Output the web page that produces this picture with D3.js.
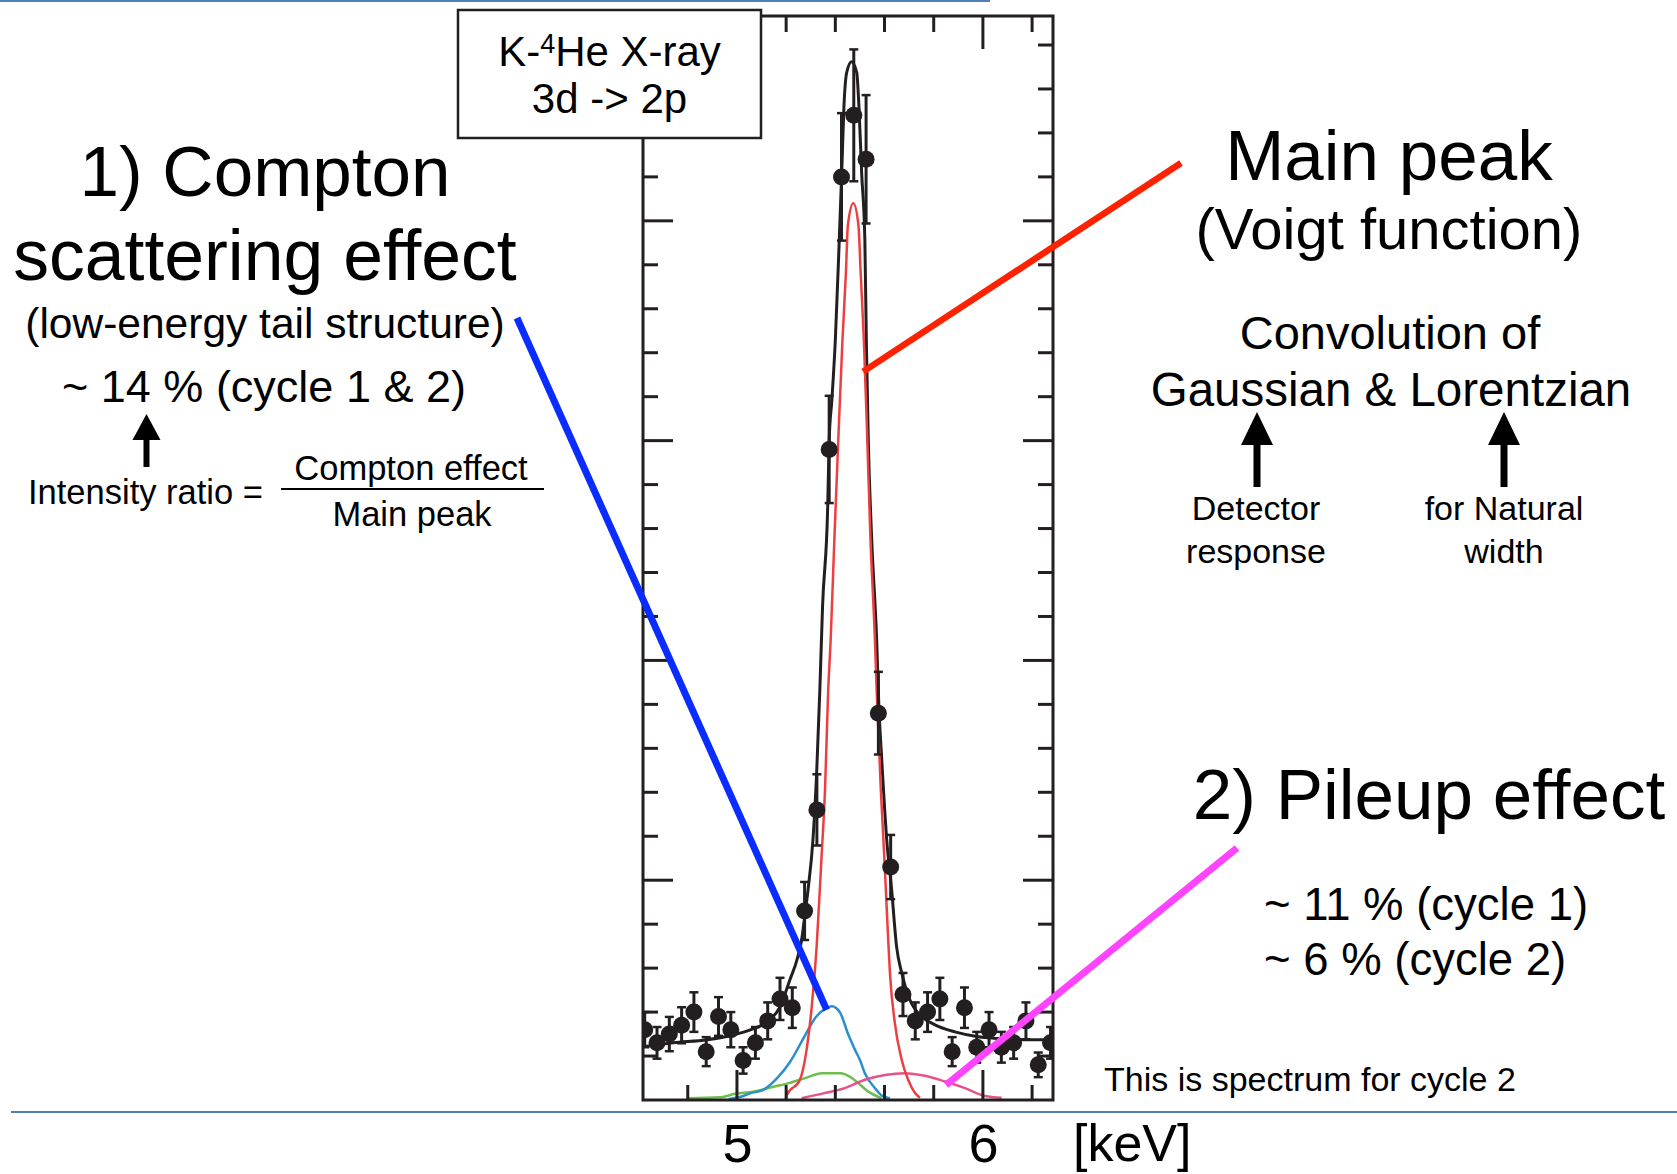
<!DOCTYPE html>
<html>
<head>
<meta charset="utf-8">
<title>K-4He X-ray 3d -> 2p spectrum</title>
<script src="https://cdn.jsdelivr.net/npm/d3@7"></script>
<style>
  html, body { margin: 0; padding: 0; background: #fff; }
  svg { display: block; }
  text { font-family: "Liberation Sans", Arial, Helvetica, sans-serif; fill: #000; }
</style>
</head>
<body>
<svg id="chart" width="1677" height="1174"></svg>
<script>
// ---- Measured spectrum (cycle 2): bin centres [keV], counts and statistical errors
const binEnergy = [4.625, 4.675, 4.725, 4.775, 4.825, 4.875, 4.925, 4.975, 5.025, 5.075,
                   5.125, 5.175, 5.225, 5.275, 5.325, 5.375, 5.425, 5.475, 5.525, 5.575,
                   5.625, 5.675, 5.725, 5.775, 5.825, 5.875, 5.925, 5.975, 6.025, 6.075,
                   6.125, 6.175, 6.225, 6.275];
const binCounts = [16, 13, 15, 17, 20, 11, 19, 16, 9, 13,
                   18, 23, 21, 43, 66, 148, 210, 224, 214, 88,
                   53, 24, 18, 20, 23, 11, 21, 12, 16, 12,
                   13, 18, 8, 13];
const binErrors = [4.0, 3.6, 3.9, 4.1, 4.5, 3.3, 4.4, 4.0, 3.0, 3.6,
                   4.2, 4.8, 4.6, 6.6, 8.1, 12.2, 14.5, 15.0, 14.6, 9.4,
                   7.3, 4.9, 4.2, 4.5, 4.8, 3.3, 4.6, 3.5, 4.0, 3.5,
                   3.6, 4.2, 2.8, 3.6];

// ---- Total fit
const fitEnergy = [4.618, 4.740, 4.878, 4.984, 5.065, 5.122, 5.175, 5.215, 5.244, 5.263,
                   5.276, 5.289, 5.309, 5.324, 5.337, 5.348, 5.369, 5.375, 5.386, 5.400,
                   5.416, 5.426, 5.435, 5.446, 5.466, 5.487, 5.496, 5.507, 5.520, 5.526,
                   5.534, 5.548, 5.568, 5.577, 5.588, 5.609, 5.629, 5.649, 5.670, 5.703,
                   5.751, 5.805, 5.886, 5.981, 6.062, 6.157, 6.285];
const fitCounts = [12.1, 13.0, 13.7, 14.8, 16.2, 17.7, 21.2, 27.3, 31.9, 36.4,
                   42.0, 47.8, 59.2, 74.4, 93.3, 112.2, 135.0, 150.2, 159.3, 172.9,
                   195.7, 210.9, 226.0, 233.7, 236.2, 233.7, 226.0, 210.9, 195.7, 172.9,
                   150.2, 127.4, 104.7, 89.5, 78.1, 59.2, 47.8, 34.9, 28.9, 22.8,
                   19.0, 17.1, 15.5, 14.4, 14.0, 13.7, 13.7];

// ---- Main peak (Voigt)
const mainEnergy = [5.199, 5.202, 5.256, 5.283, 5.304, 5.324, 5.344, 5.358, 5.371, 5.381,
                    5.396, 5.412, 5.429, 5.443, 5.451, 5.473, 5.494, 5.503, 5.516, 5.530,
                    5.543, 5.561, 5.568, 5.585, 5.599, 5.615, 5.622, 5.642, 5.670, 5.696,
                    5.724, 5.744];
const mainCounts = [0.2, 1.1, 4.6, 11.4, 21.2, 34.9, 55.4, 70.5, 93.3, 104.7,
                    127.4, 150.2, 172.9, 188.2, 199.0, 204.0, 199.0, 188.2, 172.9, 150.2,
                    127.4, 104.7, 93.3, 70.5, 55.4, 36.4, 28.9, 17.5, 9.1, 4.6,
                    1.6, 0.5];

// ---- Compton low-energy tail
const comptonEnergy = [4.965, 5.026, 5.053, 5.107, 5.167, 5.215, 5.276, 5.321, 5.365, 5.386,
                       5.419, 5.452, 5.480, 5.500, 5.520, 5.561, 5.589, 5.622];
const comptonCounts = [0.2, 0.9, 1.5, 2.3, 5.2, 8.6, 14.6, 18.9, 20.9, 21.3,
                       19.9, 15.0, 11.4, 9.1, 6.1, 2.7, 1.0, 0.4];

// ---- Second small component
const secondEnergy = [4.801, 4.931, 4.992, 5.066, 5.148, 5.215, 5.283, 5.344, 5.423, 5.459,
                      5.488, 5.534, 5.588];
const secondCounts = [0.4, 0.6, 1.4, 1.9, 3.0, 3.9, 5.1, 6.1, 6.1, 5.3,
                      4.1, 1.9, 0.4];

// ---- Pileup component
const pileupEnergy = [5.263, 5.351, 5.439, 5.520, 5.602, 5.683, 5.764, 5.846, 5.927, 6.008, 6.076];
const pileupCounts = [0.4, 1.5, 2.7, 4.6, 5.7, 6.1, 5.5, 4.2, 2.7, 0.9, 0.5];

// ---- Axis ticks
const xMinorTicks = [4.8, 5.0, 5.2, 5.4, 5.6, 5.8, 6.0, 6.2];
const xTickLabels = [5, 6];
const yTickStep = 10;
const yMajorStep = 50;

// ---------------------------------------------------------------
const svg = d3.select("#chart");
const W = 1677, H = 1174;
svg.append("rect").attr("width", W).attr("height", H).attr("fill", "#fff");

const plot = { left: 643, right: 1053, top: 16, bottom: 1100 };
const x = d3.scaleLinear().domain([4.618, 6.285]).range([plot.left, plot.right]);
const y = d3.scaleLinear().domain([0, 246.6]).range([plot.bottom, plot.top]);

const ink = "#231f20";

// slide rules
svg.append("line").attr("x1", 0).attr("x2", 990).attr("y1", 1).attr("y2", 1)
  .attr("stroke", "#4f7fb3").attr("stroke-width", 2);
svg.append("line").attr("x1", 11).attr("x2", W).attr("y1", 1112).attr("y2", 1112)
  .attr("stroke", "#4f7fb3").attr("stroke-width", 2);

svg.append("clipPath").attr("id", "plotClip")
  .append("rect")
  .attr("x", plot.left).attr("y", plot.top)
  .attr("width", plot.right - plot.left).attr("height", plot.bottom - plot.top);

const g = svg.append("g").attr("clip-path", "url(#plotClip)");

const lineOf = (es, cs) => d3.line()
  .x((d, i) => x(es[i]))
  .y((d, i) => y(cs[i]))
  .curve(d3.curveMonotoneX)(es);

// total fit
g.append("path").attr("d", lineOf(fitEnergy, fitCounts))
  .attr("fill", "none").attr("stroke", ink).attr("stroke-width", 3);

// components
const comps = [
  { e: secondEnergy, c: secondCounts, color: "#6cbf4c" },
  { e: comptonEnergy, c: comptonCounts, color: "#2a8fcf" },
  { e: pileupEnergy, c: pileupCounts, color: "#e6538a" },
  { e: mainEnergy, c: mainCounts, color: "#ec4040" }
];
comps.forEach(k => {
  g.append("path").attr("d", lineOf(k.e, k.c))
    .attr("fill", "none").attr("stroke", k.color).attr("stroke-width", 2.5);
});

// data points with error bars
const pts = g.append("g");
binEnergy.forEach((e, i) => {
  const cx = x(e), c = binCounts[i], err = binErrors[i];
  const y0 = y(c - err), y1 = y(c + err);
  pts.append("line").attr("x1", cx).attr("x2", cx).attr("y1", y0).attr("y2", y1)
    .attr("stroke", ink).attr("stroke-width", 3);
  [y0, y1].forEach(yy => pts.append("line")
    .attr("x1", cx - 4.5).attr("x2", cx + 4.5).attr("y1", yy).attr("y2", yy)
    .attr("stroke", ink).attr("stroke-width", 2.5));
  pts.append("circle").attr("cx", cx).attr("cy", y(c)).attr("r", 8.5).attr("fill", ink);
});

// frame and inward ticks
const axes = svg.append("g").attr("stroke", ink).attr("stroke-width", 3);
axes.append("rect")
  .attr("x", plot.left).attr("y", plot.top)
  .attr("width", plot.right - plot.left).attr("height", plot.bottom - plot.top)
  .attr("fill", "none");

xMinorTicks.forEach(v => {
  const major = Math.abs(v - Math.round(v)) < 1e-6;
  const xx = x(v);
  const lenB = major ? 30 : 15, lenT = major ? 33 : 16;
  axes.append("line").attr("x1", xx).attr("x2", xx).attr("y1", plot.bottom).attr("y2", plot.bottom - lenB);
  axes.append("line").attr("x1", xx).attr("x2", xx).attr("y1", plot.top).attr("y2", plot.top + lenT);
});
d3.range(yTickStep, 246, yTickStep).forEach(v => {
  const major = v % yMajorStep === 0;
  const yy = y(v), len = major ? 30 : 15;
  axes.append("line").attr("x1", plot.left).attr("x2", plot.left + len).attr("y1", yy).attr("y2", yy);
  axes.append("line").attr("x1", plot.right).attr("x2", plot.right - len).attr("y1", yy).attr("y2", yy);
});

// energy labels
const xAxis = d3.axisBottom(x).tickValues(xTickLabels).tickSize(0).tickPadding(24)
  .tickFormat(d3.format("d"));
const xg = svg.append("g").attr("transform", `translate(0,${plot.bottom})`).call(xAxis);
xg.select(".domain").remove();
xg.selectAll("text").attr("font-size", 54)
  .style("font-family", '"Liberation Sans", Arial, Helvetica, sans-serif').attr("fill", "#000");
svg.append("text").attr("x", 1073).attr("y", 1161).attr("font-size", 52).text("[keV]");

// title box
svg.append("rect").attr("x", 458).attr("y", 10).attr("width", 303).attr("height", 128)
  .attr("fill", "#fff").attr("stroke", ink).attr("stroke-width", 2.5);
const t1 = svg.append("text").attr("x", 609.5).attr("y", 66).attr("text-anchor", "middle").attr("font-size", 42);
t1.append("tspan").text("K-");
t1.append("tspan").attr("font-size", 27).attr("dy", -13).text("4");
t1.append("tspan").attr("dy", 13).text("He X-ray");
svg.append("text").attr("x", 609.5).attr("y", 113).attr("text-anchor", "middle").attr("font-size", 42)
  .text("3d -> 2p");

// annotation text helper
function label(txt, xx, yy, size, anchor) {
  return svg.append("text").attr("x", xx).attr("y", yy).attr("font-size", size)
    .attr("text-anchor", anchor || "middle").text(txt);
}
function upArrow(cx, tip, base, bottom, headW, shaftW) {
  svg.append("rect").attr("x", cx - shaftW / 2).attr("y", base - 1)
    .attr("width", shaftW).attr("height", bottom - base + 1).attr("fill", "#000");
  svg.append("path")
    .attr("d", `M${cx},${tip} L${cx + headW / 2},${base} L${cx - headW / 2},${base} Z`)
    .attr("fill", "#000");
}

// Compton side
label("1) Compton", 265, 196, 71);
label("scattering effect", 265, 280, 71.5);
label("(low-energy tail structure)", 265, 338, 42.5);
label("~ 14 % (cycle 1 & 2)", 264, 402, 45);
upArrow(146.5, 414, 440, 467, 28, 6);
label("Intensity ratio =", 28, 504, 34.5, "start");
label("Compton effect", 411, 480, 34.5);
svg.append("line").attr("x1", 281).attr("x2", 544).attr("y1", 489).attr("y2", 489)
  .attr("stroke", "#000").attr("stroke-width", 2);
label("Main peak", 412, 526, 34.5);

// Main peak side
label("Main peak", 1389, 180, 71);
label("(Voigt function)", 1389, 249, 58);
label("Convolution of", 1390, 349, 47);
label("Gaussian & Lorentzian", 1391, 406, 47.5);
upArrow(1257, 412, 445, 487, 32, 7);
upArrow(1504, 412, 445, 487, 32, 7);
label("Detector", 1256, 520, 34);
label("response", 1256, 563, 34);
label("for Natural", 1504, 520, 34);
label("width", 1504, 563, 34);

// Pileup side
label("2) Pileup effect", 1429, 819, 71);
label("~ 11 % (cycle 1)", 1264, 920, 45.5, "start");
label("~ 6 % (cycle 2)", 1264, 975, 45.5, "start");
label("This is spectrum for cycle 2", 1104, 1091, 34, "start");

// callout lines: from the text to a point on the relevant curve
const callouts = [
  { from: [517, 318], e: 5.365, c: 20.5, color: "#0a2cff", w: 7 },
  { from: [1181, 163], e: 5.513, c: 165.7, color: "#ff2200", w: 6.5 },
  { from: [1237, 848], e: 5.85, c: 3.4, color: "#ff44ff", w: 7 }
];
callouts.forEach(k => {
  svg.append("line")
    .attr("x1", k.from[0]).attr("y1", k.from[1])
    .attr("x2", x(k.e)).attr("y2", y(k.c))
    .attr("stroke", k.color).attr("stroke-width", k.w);
});
</script>
</body>
</html>
